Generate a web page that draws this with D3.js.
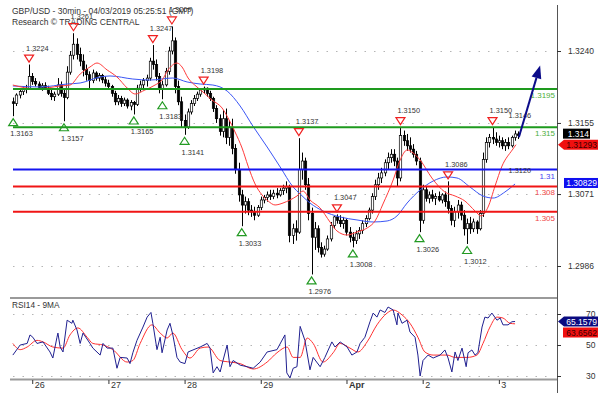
<!DOCTYPE html>
<html><head><meta charset="utf-8">
<script src="https://cdn.jsdelivr.net/npm/d3@7"></script>
<style>
body{margin:0;background:#fff}
svg{display:block;font-family:"Liberation Sans",Arial,sans-serif}
</style></head>
<body><svg id="c" width="605" height="395"></svg>
<script>
// ---------- DATA ----------
const titleText = "GBP/USD - 30min - 04/03/2019 05:25:51 (GMT)";
const subTitle = "Research \u00A9 TRADING CENTRAL";
const rsiTitle = "RSI14 - 9MA";
const dayTickSlots = [7, 31, 55, 79, 106, 130, 154];
const dayTickLabels = ["26", "27", "28", "29", "Apr", "2", "3"];
const priceTicks = [1.3240, 1.3155, 1.3071, 1.2986];
const rsiTicks = [30, 50, 70];
const firstSlot = 1;

const open = [
1.3180,1.3178,1.3188,1.3192,1.3195,1.3196,1.3210,1.3204,1.3201,1.3197,
1.3199,1.3196,1.3190,1.3186,1.3189,1.3200,1.3190,1.3185,1.3215,1.3235,
1.3248,1.3236,1.3228,1.3218,1.3212,1.3205,1.3214,1.3208,1.3211,1.3206,
1.3202,1.3198,1.3190,1.3180,1.3184,1.3178,1.3182,1.3175,1.3179,1.3177,
1.3196,1.3200,1.3205,1.3208,1.3228,1.3224,1.3210,1.3195,1.3200,1.3216,
1.3240,1.3252,1.3198,1.3180,1.3158,1.3150,1.3168,1.3178,1.3184,1.3189,
1.3194,1.3196,1.3190,1.3184,1.3172,1.3160,1.3145,1.3160,1.3138,1.3150,
1.3125,1.3100,1.3070,1.3058,1.3062,1.3052,1.3050,1.3046,1.3055,1.3064,
1.3067,1.3070,1.3068,1.3072,1.3070,1.3075,1.3078,1.3080,1.3022,1.3030,
1.3026,1.3100,1.3110,1.3082,1.3048,1.3020,1.3030,1.3008,1.3000,1.3006,
1.3018,1.3034,1.3044,1.3040,1.3036,1.3040,1.3026,1.3020,1.3016,1.3024,
1.3028,1.3036,1.3042,1.3052,1.3068,1.3082,1.3090,1.3096,1.3108,1.3114,
1.3118,1.3110,1.3090,1.3140,1.3134,1.3128,1.3124,1.3118,1.3110,1.3040,
1.3076,1.3066,1.3070,1.3066,1.3068,1.3064,1.3070,1.3062,1.3054,1.3040,
1.3050,1.3058,1.3046,1.3030,1.3036,1.3030,1.3038,1.3030,1.3048,1.3112,
1.3132,1.3138,1.3136,1.3132,1.3134,1.3128,1.3132,1.3128,1.3138,1.3142];
const high = [
1.3185,1.3190,1.3196,1.3198,1.3200,1.3224,1.3214,1.3208,1.3204,1.3202,
1.3203,1.3199,1.3195,1.3192,1.3208,1.3204,1.3194,1.3222,1.3240,1.3261,
1.3255,1.3244,1.3236,1.3224,1.3216,1.3218,1.3216,1.3214,1.3213,1.3210,
1.3206,1.3200,1.3193,1.3188,1.3187,1.3185,1.3184,1.3182,1.3181,1.3200,
1.3205,1.3208,1.3212,1.3232,1.3247,1.3230,1.3214,1.3205,1.3220,1.3245,
1.3269,1.3256,1.3205,1.3186,1.3165,1.3172,1.3182,1.3188,1.3192,1.3196,
1.3198,1.3197,1.3193,1.3186,1.3176,1.3165,1.3170,1.3172,1.3158,1.3160,
1.3130,1.3108,1.3076,1.3068,1.3066,1.3058,1.3056,1.3058,1.3068,1.3070,
1.3074,1.3076,1.3076,1.3078,1.3078,1.3082,1.3086,1.3082,1.3036,1.3040,
1.3137,1.3120,1.3114,1.3090,1.3055,1.3038,1.3034,1.3014,1.3010,1.3022,
1.3038,1.3045,1.3047,1.3046,1.3044,1.3042,1.3032,1.3026,1.3028,1.3032,
1.3040,1.3046,1.3055,1.3072,1.3088,1.3096,1.3102,1.3112,1.3120,1.3124,
1.3124,1.3114,1.3150,1.3146,1.3142,1.3138,1.3130,1.3122,1.3114,1.3082,
1.3080,1.3074,1.3076,1.3072,1.3074,1.3072,1.3074,1.3086,1.3058,1.3056,
1.3064,1.3062,1.3052,1.3042,1.3044,1.3042,1.3040,1.3052,1.3120,1.3138,
1.3142,1.3150,1.3144,1.3140,1.3138,1.3136,1.3138,1.3140,1.3146,1.3145];
const low = [
1.3163,1.3175,1.3184,1.3188,1.3190,1.3194,1.3200,1.3198,1.3194,1.3193,
1.3194,1.3188,1.3182,1.3181,1.3187,1.3186,1.3157,1.3183,1.3212,1.3230,
1.3230,1.3222,1.3210,1.3205,1.3196,1.3202,1.3205,1.3204,1.3202,1.3198,
1.3195,1.3186,1.3176,1.3176,1.3174,1.3175,1.3172,1.3170,1.3165,1.3175,
1.3192,1.3196,1.3198,1.3205,1.3218,1.3205,1.3190,1.3183,1.3198,1.3212,
1.3236,1.3190,1.3176,1.3150,1.3141,1.3148,1.3165,1.3175,1.3181,1.3186,
1.3190,1.3186,1.3181,1.3168,1.3155,1.3140,1.3138,1.3130,1.3128,1.3118,
1.3095,1.3062,1.3033,1.3048,1.3046,1.3044,1.3040,1.3044,1.3052,1.3060,
1.3062,1.3064,1.3065,1.3066,1.3068,1.3070,1.3072,1.3014,1.3012,1.3016,
1.3024,1.3088,1.3076,1.3040,1.2976,1.3005,1.3002,1.2996,1.2997,1.3004,
1.3015,1.3030,1.3036,1.3032,1.3030,1.3022,1.3014,1.3008,1.3012,1.3018,
1.3024,1.3032,1.3040,1.3048,1.3064,1.3076,1.3084,1.3092,1.3100,1.3108,
1.3104,1.3080,1.3086,1.3128,1.3122,1.3120,1.3114,1.3105,1.3026,1.3036,
1.3062,1.3060,1.3062,1.3058,1.3062,1.3060,1.3056,1.3048,1.3034,1.3032,
1.3042,1.3040,1.3022,1.3012,1.3024,1.3026,1.3024,1.3028,1.3044,1.3108,
1.3126,1.3130,1.3128,1.3126,1.3124,1.3122,1.3124,1.3126,1.3134,1.3136];
const close = [
1.3178,1.3188,1.3192,1.3195,1.3196,1.3210,1.3204,1.3201,1.3197,1.3199,
1.3196,1.3190,1.3186,1.3189,1.3200,1.3190,1.3185,1.3215,1.3235,1.3248,
1.3236,1.3228,1.3218,1.3212,1.3205,1.3214,1.3208,1.3211,1.3206,1.3202,
1.3198,1.3190,1.3180,1.3184,1.3178,1.3182,1.3175,1.3179,1.3177,1.3196,
1.3200,1.3205,1.3208,1.3228,1.3224,1.3210,1.3195,1.3200,1.3216,1.3240,
1.3252,1.3198,1.3180,1.3158,1.3150,1.3168,1.3178,1.3184,1.3189,1.3194,
1.3196,1.3190,1.3184,1.3172,1.3160,1.3145,1.3160,1.3138,1.3150,1.3125,
1.3100,1.3070,1.3058,1.3062,1.3052,1.3050,1.3046,1.3055,1.3064,1.3067,
1.3070,1.3068,1.3072,1.3070,1.3075,1.3078,1.3080,1.3022,1.3030,1.3026,
1.3100,1.3110,1.3082,1.3048,1.3020,1.3030,1.3008,1.3000,1.3006,1.3018,
1.3034,1.3044,1.3040,1.3036,1.3040,1.3026,1.3020,1.3016,1.3024,1.3028,
1.3036,1.3042,1.3052,1.3068,1.3082,1.3090,1.3096,1.3108,1.3114,1.3118,
1.3110,1.3090,1.3140,1.3134,1.3128,1.3124,1.3118,1.3110,1.3040,1.3076,
1.3066,1.3070,1.3066,1.3068,1.3064,1.3070,1.3062,1.3054,1.3040,1.3050,
1.3058,1.3046,1.3030,1.3036,1.3030,1.3038,1.3030,1.3048,1.3112,1.3132,
1.3138,1.3136,1.3132,1.3134,1.3128,1.3132,1.3128,1.3138,1.3142,1.3140];

// moving averages on price: [slot, price]
const maFast = [[0.9,1.31998],[8.5,1.31951],[15.8,1.31987],[18.9,1.31998],[22.1,1.32128],[25.2,1.32211],[27.4,1.32258],[30.6,1.32176],[33.7,1.32093],[36.9,1.31963],[39.4,1.31892],[42.5,1.31939],[45.7,1.31998],[47.9,1.32057],[49.8,1.32176],[52.6,1.32258],[54.2,1.32211],[56.1,1.32081],[58.9,1.31975],[60.8,1.31916],[63.6,1.31821],[66.8,1.31727],[68.7,1.31609],[70.9,1.31443],[73.1,1.31254],[75.0,1.31041],[77.2,1.30829],[79.4,1.30699],[81.3,1.30628],[83.5,1.30581],[86.0,1.30604],[88.2,1.30640],[90.4,1.30687],[92.3,1.30746],[94.5,1.30640],[97.7,1.30545],[100.8,1.30380],[103.0,1.30274],[106.2,1.30226],[109.3,1.30262],[112.5,1.30309],[115.0,1.30392],[117.5,1.30593],[120.7,1.30876],[122.9,1.31112],[125.1,1.31230],[127.0,1.31195],[129.2,1.31112],[132.9,1.30900],[137.0,1.30734],[140.2,1.30687],[143.3,1.30628],[146.5,1.30510],[148.4,1.30451],[150.6,1.30557],[152.8,1.30805],[155.0,1.31041],[158.2,1.31230],[159.4,1.31293]];
const maSlow = [[0.9,1.31987],[9.5,1.31975],[18.0,1.32010],[22.1,1.32022],[28.4,1.32093],[31.5,1.32105],[38.7,1.32069],[44.1,1.32057],[51.3,1.32081],[55.8,1.32034],[59.9,1.32010],[63.9,1.31998],[68.4,1.31927],[72.5,1.31750],[76.5,1.31514],[81.0,1.31266],[85.1,1.31030],[89.2,1.30793],[91.4,1.30711],[94.5,1.30604],[98.6,1.30510],[104.0,1.30439],[109.3,1.30404],[114.4,1.30380],[118.8,1.30392],[121.9,1.30451],[125.1,1.30604],[129.2,1.30758],[133.3,1.30864],[137.7,1.30912],[140.8,1.30900],[144.9,1.30793],[149.0,1.30687],[152.2,1.30663],[155.9,1.30734],[159.1,1.30829]];

// RSI14 and its 9MA: [slot, value]
const rsi = [[0.9,43.5],[3.2,50],[5.4,51],[6.3,56.5],[7.2,55],[8.5,51],[10.4,52],[12.6,45.5],[13.5,41.6],[14.8,55],[15.1,57.7],[15.8,48.7],[16.7,45.5],[18,66],[19.5,64],[19.8,66],[21.1,59.7],[22.1,51],[23,57.7],[25.2,51],[26.1,48],[28.4,43.5],[29.3,51],[30.6,48],[32.4,48],[33.7,35],[34.7,42],[36.9,41.6],[37.8,38],[38.7,45],[40,53],[41.9,61.6],[43.2,68],[44.4,71],[45,64],[46.3,47],[47.3,55],[47.9,45],[49.5,59.7],[50.4,64],[51.3,56.5],[52.6,42],[53.6,39],[55.1,38],[56.1,45.5],[59.9,48.7],[62.1,51],[63,48],[64,32],[65.2,36],[66.2,32.6],[67.1,40],[68.4,50],[69.3,36],[70.3,40],[72.5,37],[74.7,36],[76.6,35],[78.8,39],[81,45.5],[84.1,47],[86.6,56.5],[87.2,32],[88.2,28.7],[89.2,35],[90.4,36],[91.4,62],[92.9,53],[94.5,34],[95.5,42],[97.7,36],[99.2,42],[101.4,52],[102.4,48.7],[104,52],[106.2,48.7],[107.7,43.5],[109.3,45.5],[110.3,51],[111.8,55],[113.4,65],[114.4,70.6],[115.6,68],[116.6,72.6],[118.1,71],[119.1,74.5],[120.7,72.6],[121.9,63],[122.2,70.6],[123.5,64],[125.1,66],[126,58.4],[127.6,55],[128.5,43.5],[129.2,30],[130.1,40],[131.7,43.5],[133.3,41.6],[135.5,43.5],[137,46.8],[138,41.6],[139.2,32.6],[140.2,45.5],[141.1,40],[142.4,48],[143.7,36],[144.3,45],[145.5,46.8],[146.5,43.5],[147.4,45],[148.7,61.6],[149.6,68],[150.6,67.4],[151.8,70.6],[153.4,66],[154.4,67.4],[155.3,63],[156.9,63],[158.1,65],[159.1,65.1579]];
const rsiMA = [[0.9,51],[3.2,47],[5.4,48.7],[8.5,53],[10.4,52],[13.5,48.7],[16.7,48],[18.9,56.5],[21.4,61],[24.3,55],[26.1,51],[29.3,50],[32.4,47],[36.9,39],[38.7,40],[41,51],[44.7,63],[47.3,57.7],[49.5,54.5],[51.3,57.7],[54.2,47],[56.7,41.6],[59.9,48],[62.4,48.7],[66.2,40],[69.3,39],[72.5,38],[76.6,34.5],[81,39],[84.1,45],[87.3,48.7],[89.2,42],[91.4,42],[93.6,54.5],[95.5,51],[98.6,39],[101.8,45],[104,51],[107.1,48],[109.6,45.5],[112.5,52],[115.6,63],[118.8,70.6],[120.7,72.6],[123.5,69.4],[126,64],[128.5,55],[130.7,45.5],[133.3,43.5],[137.7,43.5],[140.2,42],[144,42],[147.1,43.5],[149,51],[151.2,61.6],[153.4,68],[155.3,67.4],[157.5,64],[159.1,63.6562]];

// horizontal levels
const levelPrices = [1.3195, 1.3150, 1.3100, 1.3080, 1.3050];
const levelLabels = ["1.3195", "1.315", "1.31", "1.308", "1.305"];
const levelKinds = ["res", "res", "pivot", "sup", "sup"];

// swing annotations
const annSlots = [1, 6, 17, 20, 39, 45, 48, 51, 55, 61, 73, 91, 95, 103, 108, 123, 129, 138, 144, 152];
const annPrices = [1.3163, 1.3224, 1.3157, 1.3261, 1.3165, 1.3247, 1.3183, 1.3269, 1.3141, 1.3198, 1.3033, 1.3137, 1.2976, 1.3047, 1.3008, 1.3150, 1.3026, 1.3086, 1.3012, 1.3150];
const annKinds = ["low","high","low","high","low","high","low","high","low","high","low","high","low","high","low","high","low","high","low","high"];

// target / pivot text labels and forecast arrow
const targetLabel = {slot: 158, price: 1.3146, text: "1.3146"};
const pivotLabel = {slot: 158, price: 1.3100, text: "1.3120"};
const arrowFrom = [160.3, 1.3138];
const arrowTo = [167, 1.3223];

// ---------- DRAW ----------
const svg = d3.select("#c");
const x = d3.scaleLinear().domain([0, 172]).range([10, 556]);
const y = d3.scaleLinear().domain([1.2986, 1.3240]).range([266, 51]);
const yR = d3.scaleLinear().domain([30, 70]).range([376, 314]);
const TXT = "#333";

const defs = svg.append("defs");
defs.append("clipPath").attr("id", "cm").append("rect").attr("x", 10).attr("y", 0).attr("width", 547).attr("height", 296);
defs.append("clipPath").attr("id", "cr").append("rect").attr("x", 10).attr("y", 299).attr("width", 547).attr("height", 79);

// grid lines
svg.append("g").selectAll("line").data(priceTicks).join("line")
  .attr("x1", 13).attr("x2", 552).attr("y1", d => Math.round(y(d)) + 0.5).attr("y2", d => Math.round(y(d)) + 0.5)
  .attr("stroke", "#b5b5b5").attr("stroke-dasharray", "1.5,8");
svg.append("g").selectAll("line").data(rsiTicks).join("line")
  .attr("x1", 13).attr("x2", 552).attr("y1", d => Math.round(yR(d)) + 0.5).attr("y2", d => Math.round(yR(d)) + 0.5)
  .attr("stroke", "#b5b5b5").attr("stroke-dasharray", "1.5,8");

// panel borders
svg.append("line").attr("x1", 10).attr("x2", 557).attr("y1", 298).attr("y2", 298).attr("stroke", "#9a9a9a").attr("stroke-width", 2);
svg.append("line").attr("x1", 10).attr("x2", 557).attr("y1", 379.5).attr("y2", 379.5).attr("stroke", "#9a9a9a").attr("stroke-width", 2);
svg.append("line").attr("x1", 557.5).attr("x2", 557.5).attr("y1", 5).attr("y2", 393).attr("stroke", "#555").attr("stroke-width", 1);

// title
svg.append("text").attr("x", 12).attr("y", 14).attr("font-size", 8.5).attr("fill", TXT).text(titleText);
svg.append("text").attr("x", 12).attr("y", 25).attr("font-size", 8.5).attr("fill", TXT).text(subTitle);

const gm = svg.append("g").attr("clip-path", "url(#cm)");

// candles
const candles = close.map((c, i) => ({s: firstSlot + i, o: open[i], h: high[i], l: low[i], c: c}));
gm.append("g").selectAll("line").data(candles).join("line")
  .attr("x1", d => Math.round(x(d.s)) + 0.5).attr("x2", d => Math.round(x(d.s)) + 0.5)
  .attr("y1", d => y(d.h)).attr("y2", d => y(d.l))
  .attr("stroke", "#000").attr("stroke-width", 1);
gm.append("g").selectAll("rect").data(candles).join("rect")
  .attr("x", d => Math.round(x(d.s)) - 0.7).attr("width", 2.4)
  .attr("y", d => y(Math.max(d.o, d.c))).attr("height", d => Math.max(1, Math.abs(y(d.o) - y(d.c))))
  .attr("fill", d => d.c >= d.o ? "#fff" : "#000").attr("stroke", "#000").attr("stroke-width", 0.7);

// levels
const lvlColor = {res: "#1e9a1e", pivot: "#1515f0", sup: "#f01515"};
const lvlText = {res: "#4cae3a", pivot: "#4545f0", sup: "#f04545"};
svg.append("g").selectAll("line").data(levelPrices).join("line")
  .attr("x1", 13).attr("x2", 557).attr("y1", d => y(d)).attr("y2", d => y(d))
  .attr("stroke", (d, i) => lvlColor[levelKinds[i]]).attr("stroke-width", 2);
svg.append("g").selectAll("text").data(levelPrices).join("text")
  .attr("x", 555).attr("y", d => y(d) + 9).attr("text-anchor", "end").attr("font-size", 8)
  .attr("fill", (d, i) => lvlText[levelKinds[i]]).text((d, i) => levelLabels[i]);

// moving averages
const line = d3.line().x(d => x(d[0])).y(d => y(d[1])).curve(d3.curveMonotoneX);
gm.append("path").attr("d", line(maSlow)).attr("fill", "none").attr("stroke", "#3a55f5").attr("stroke-width", 1);
gm.append("path").attr("d", line(maFast)).attr("fill", "none").attr("stroke", "#ff3b3b").attr("stroke-width", 1);

// annotations
const ann = annSlots.map((s, i) => ({s, p: annPrices[i], k: annKinds[i]}));
const ga = svg.append("g");
ga.selectAll("path").data(ann).join("path")
  .attr("d", d => {
    const cx = x(d.s), cy = y(d.p);
    return d.k === "high"
      ? `M${cx - 4.5},${cy - 9.5}L${cx + 4.5},${cy - 9.5}L${cx},${cy - 2.5}Z`
      : `M${cx - 4.5},${cy + 9.5}L${cx + 4.5},${cy + 9.5}L${cx},${cy + 2.5}Z`;
  })
  .attr("fill", "none").attr("stroke", d => d.k === "high" ? "#f02020" : "#239a23").attr("stroke-width", 1.2);
ga.selectAll("text").data(ann).join("text")
  .attr("x", d => x(d.s) - 3).attr("y", d => d.k === "high" ? y(d.p) - 14 : y(d.p) + 20)
  .attr("font-size", 7.4).attr("fill", TXT).text(d => d.p.toFixed(4));
svg.append("text").attr("x", x(targetLabel.slot) - 3).attr("y", y(targetLabel.price) - 13)
  .attr("font-size", 7.4).attr("fill", TXT).text(targetLabel.text);
svg.append("text").attr("x", x(pivotLabel.slot) - 3).attr("y", y(pivotLabel.price) + 3.5)
  .attr("font-size", 7.4).attr("fill", TXT).text(pivotLabel.text);

// forecast arrow
{
  const x0 = x(arrowFrom[0]), y0 = y(arrowFrom[1]), x1 = x(arrowTo[0]), y1 = y(arrowTo[1]);
  const ang = Math.atan2(y1 - y0, x1 - x0), L = 13, Wd = 5;
  const bx = x1 - L * Math.cos(ang), by = y1 - L * Math.sin(ang);
  svg.append("line").attr("x1", x0).attr("y1", y0).attr("x2", bx).attr("y2", by).attr("stroke", "#0c0c8a").attr("stroke-width", 2);
  svg.append("path").attr("d", `M${x1},${y1}L${bx + Wd * Math.sin(ang)},${by - Wd * Math.cos(ang)}L${bx - Wd * Math.sin(ang)},${by + Wd * Math.cos(ang)}Z`)
    .attr("fill", "#0c0c8a");
}

// RSI panel
const gr = svg.append("g").attr("clip-path", "url(#cr)");
const rline = d3.line().x(d => x(d[0])).y(d => yR(d[1]));
gr.append("path").attr("d", rline.curve(d3.curveMonotoneX)(rsiMA)).attr("fill", "none").attr("stroke", "#ff3030").attr("stroke-width", 1);
gr.append("path").attr("d", d3.line().x(d => x(d[0])).y(d => yR(d[1]))(rsi)).attr("fill", "none").attr("stroke", "#202090").attr("stroke-width", 1);
svg.append("text").attr("x", 12).attr("y", 308).attr("font-size", 8.3).attr("fill", TXT).text(rsiTitle);

// right price axis
const axP = svg.append("g").attr("transform", "translate(557,0)")
  .call(d3.axisRight(y).tickValues(priceTicks).tickFormat(d3.format(".4f")).tickSize(4).tickPadding(7));
axP.select(".domain").remove();
axP.selectAll("line").attr("stroke", "#333");
axP.selectAll("text").attr("font-size", 8.5).attr("fill", TXT).attr("font-family", null);

const axRs = svg.append("g").attr("transform", "translate(557,0)")
  .call(d3.axisRight(yR).tickValues(rsiTicks).tickFormat(d3.format("d")).tickSize(4).tickPadding(25));
axRs.select(".domain").remove();
axRs.selectAll("line").attr("stroke", "#333");
axRs.selectAll("text").attr("font-size", 8.5).attr("fill", TXT).attr("font-family", null);

// bottom time axis
const axB = svg.append("g").attr("transform", "translate(0,380)")
  .call(d3.axisBottom(x).tickValues(dayTickSlots).tickFormat((d, i) => dayTickLabels[i]).tickSize(4));
axB.select(".domain").remove();
axB.selectAll("line").attr("stroke", "#333");
axB.selectAll("text").attr("x", 2).attr("y", 2).attr("dy", "0.71em").attr("text-anchor", "start")
  .attr("font-size", 9).attr("fill", TXT).attr("font-family", null)
  .attr("font-weight", (d, i) => dayTickLabels[i] === "Apr" ? "bold" : null);

// value boxes on the right
function valueBox(cy, txt, bg, fg, arrow, x0, x1) {
  const g = svg.append("g");
  const h = 10;
  if (arrow) {
    g.append("path").attr("d", `M558,${cy}L${x0},${cy - h / 2}L${x1},${cy - h / 2}L${x1},${cy + h / 2}L${x0},${cy + h / 2}Z`).attr("fill", bg);
  } else {
    g.append("rect").attr("x", x0).attr("y", cy - h / 2).attr("width", x1 - x0).attr("height", h).attr("fill", bg);
  }
  g.append("text").attr("x", x1 - 1).attr("y", cy + 3.2).attr("text-anchor", "end").attr("font-size", 8.5).attr("fill", fg).text(txt);
}
const lastClose = close[close.length - 1];
const lastFast = maFast[maFast.length - 1][1];
const lastSlow = maSlow[maSlow.length - 1][1];
const lastRsi = rsi[rsi.length - 1][1];
const lastRsiMA = rsiMA[rsiMA.length - 1][1];
valueBox(y(lastFast), String(+lastFast.toFixed(5)), "#f01010", "#3a0000", true, 564, 598);
valueBox(y(lastClose) - 2, String(+lastClose.toFixed(5)), "#000", "#fff", false, 563, 590);
valueBox(y(lastSlow) - 1, String(+lastSlow.toFixed(5)), "#1010f0", "#fff", false, 564, 598);
valueBox(yR(lastRsi), lastRsi.toFixed(4), "#0a0a80", "#fff", true, 564, 598);
valueBox(yR(lastRsi) + 11, lastRsiMA.toFixed(4), "#f01010", "#3a0000", false, 563, 598);
</script>
</body></html>
